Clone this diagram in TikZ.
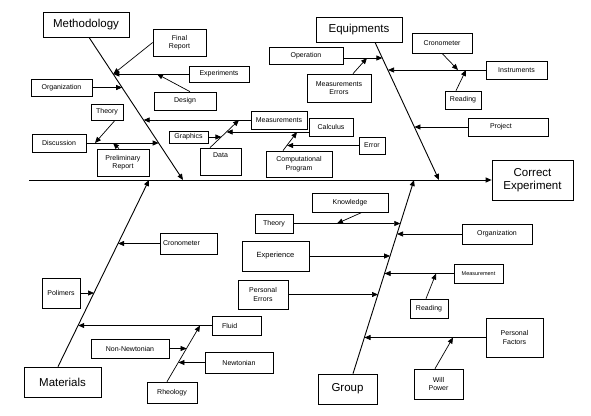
\documentclass[tikz,border=0pt]{standalone}
\usepackage{fontspec}
\setmainfont{Liberation Sans}
\usetikzlibrary{arrows.meta}
\begin{document}
\begin{tikzpicture}[x=1pt,y=-1pt,
  box/.style={draw, line width=0.7pt, inner sep=1pt, align=center, font=\fontsize{7}{8.5}\selectfont},
  big/.style={font=\fontsize{11.5}{13.5}\selectfont},
  rib/.style={line width=0.7pt, -{Triangle[length=6pt,width=5pt]}},
  bone/.style={line width=0.9pt, -{Triangle[length=6pt,width=5pt]}}]
\path[use as bounding box, fill=white] (0,0) rectangle (591,415);

% ---------- main boxes
\node[box,big,minimum width=86,minimum height=25] (meth) at (86,24.5) {Methodology};
\node[box,big,minimum width=86,minimum height=25] (equip) at (359,29.5) {Equipments};
\node[box,big,minimum width=77,minimum height=30] (mat) at (62.5,382) {Materials};
\node[box,big,minimum width=59,minimum height=30] (group) at (347.5,389) {Group};
\node[box,big,minimum width=81,minimum height=40] (corr) at (532.5,180) {Correct\\Experiment};

% ---------- spine
\coordinate (s0) at (29,180);
\draw[bone] (s0) -- (corr.west);

% ---------- bones
\coordinate (mb) at (183,180);
\coordinate (eb) at (439,180);
\coordinate (ab) at (149,180);
\coordinate (gb) at (414,180);
\draw[bone] ([xshift=3pt]meth.south) -- (mb);
\draw[bone] ([xshift=16pt]equip.south) -- (eb);
\draw[bone] ([xshift=-4.5pt]mat.north) -- (ab);
\draw[bone] ([xshift=5.5pt]group.north) -- (gb);

% ---------- Methodology causes
\node[box,minimum width=53,minimum height=27] (final) at (179.5,42.5) {Final\\Report};
\node[box,minimum width=60,minimum height=16] (exper) at (219,74) {Experiments};
\node[box,minimum width=62,minimum height=18] (design) at (185,101) {Design};
\node[box,minimum width=61,minimum height=17] (org1) at (61.5,87.5) {Organization};
\node[box,minimum width=32,minimum height=16] (theory1) at (107,112) {Theory};
\node[box,minimum width=54,minimum height=18] (disc) at (59,143) {Discussion};
\node[box,minimum width=52,minimum height=27] (prelim) at (123,162.5) {Preliminary\\Report};
\node[box,minimum width=56,minimum height=18] (meas1) at (279,120) {Measurements};
\node[box,minimum width=39,minimum height=12] (graph) at (188.5,137) {Graphics};
\node[box,minimum width=41,text height=8.5pt,text depth=16.5pt] (data) at (220.5,161.5) {Data};
\node[box,minimum width=44,minimum height=18] (calc) at (331,127) {Calculus};
\node[box,minimum width=26,minimum height=17] (err) at (372,145.5) {Error};
\node[box,minimum width=66,minimum height=26] (comp) at (299,164) {Computational\\Program};

\coordinate (m74) at (113.3,74);
\coordinate (m87) at (122.2,87.5);
\coordinate (m120) at (143.6,120);
\coordinate (m143) at (158.7,143);
\coordinate (d1) at (157,74);
\coordinate (t1) at (95,143);
\coordinate (p1) at (113,143);
\coordinate (dm) at (239,120);
\coordinate (dg) at (221.4,137);
\coordinate (dc) at (226.6,132);
\coordinate (cc) at (297,132);
\coordinate (ce) at (287.1,145.5);

\draw[rib] (final.west) -- (m74);
\draw[rib] (exper.west) -- (m74);
\draw[rib] ([xshift=5pt]design.north) -- (d1);
\draw[rib] (org1.east) -- (m87);
\draw[rib] (meas1.west) -- (m120);
\draw[rib] (disc.east) -- (m143);
\draw[rib] ([xshift=8pt]theory1.south) -- (t1);
\draw[rib] ([xshift=-4pt]prelim.north) -- (p1);
\draw[rib] ([xshift=-10.5pt]data.north) -- (dm);
\draw[rib] (graph.east) -- (dg);
\draw[rib] ([yshift=-5pt]calc.west) -- (dc);
\draw[rib] ([xshift=-16pt]comp.north) -- (cc);
\draw[rib] (err.west) -- (ce);

% ---------- Equipments causes
\node[box,minimum width=74,minimum height=17] (oper) at (306,55.5) {Operation};
\node[box,minimum width=64,minimum height=28] (merr) at (339,88) {Measurements\\Errors};
\node[box,minimum width=60,minimum height=20] (cron1) at (442,43) {Cronometer};
\node[box,minimum width=61,minimum height=18] (instr) at (516.5,70) {Instruments};
\node[box,minimum width=36,minimum height=18] (read1) at (463,100) {Reading};
\node[box,minimum height=18,text width=36pt,inner xsep=22pt,align=left] (proj) at (508,127) {Project};

\coordinate (e58) at (382.4,58);
\coordinate (o1) at (367,58);
\coordinate (e70) at (388,70);
\coordinate (i1) at (458,70);
\coordinate (i2) at (466,70);
\coordinate (e127) at (414.4,127);

\draw[rib] ([yshift=-2.5pt]oper.east) -- (e58);
\draw[rib] ([xshift=14pt]merr.north) -- (o1);
\draw[rib] (instr.west) -- (e70);
\draw[rib] (cron1.south) -- (i1);
\draw[rib] ([xshift=-7pt]read1.north) -- (i2);
\draw[rib] (proj.west) -- (e127);

% ---------- Materials causes
\node[box,minimum height=21,text width=51pt,inner xsep=3pt,align=left] (cron2) at (188.5,243.5) {Cronometer};
\node[box,minimum width=38,minimum height=30] (polim) at (61,293) {Polimers};
\node[box,minimum height=19,text width=29pt,inner xsep=10pt,align=left] (fluid) at (236.5,325.5) {Fluid};
\node[box,minimum width=78,minimum height=19] (nonnew) at (130,348.5) {Non-Newtonian};
\node[box,minimum width=68,minimum height=21] (newt) at (239,362.5) {Newtonian};
\node[box,minimum width=50,minimum height=21] (rheo) at (172,392.5) {Rheology};

\coordinate (a243) at (118.1,243.5);
\coordinate (a293) at (94,293);
\coordinate (a325) at (78.2,325.5);
\coordinate (r1) at (200,325.5);
\coordinate (r2) at (186.6,348.5);
\coordinate (r3) at (178.4,362.5);

\draw[rib] (cron2.west) -- (a243);
\draw[rib] (polim.east) -- (a293);
\draw[rib] (fluid.west) -- (a325);
\draw[rib] ([xshift=-5pt]rheo.north) -- (r1);
\draw[rib] (nonnew.east) -- (r2);
\draw[rib] (newt.west) -- (r3);

% ---------- Group causes
\node[box,minimum width=76,minimum height=19] (know) at (350,202.5) {Knowledge};
\node[box,minimum width=38,minimum height=19] (theory2) at (274,223.5) {Theory};
\node[box,minimum width=70,minimum height=20] (org2) at (497,234) {Organization};
\node[box,minimum width=67,minimum height=30,font=\fontsize{7.5}{9}\selectfont] (expce) at (275.5,256) {Experience};
\node[box,minimum width=49,minimum height=19,font=\fontsize{5.5}{7}\selectfont] (meas2) at (478.5,273.5) {Measurement};
\node[box,minimum width=38,minimum height=19] (read2) at (429,308.5) {Reading};
\node[box,minimum width=50,minimum height=29] (perr) at (263,294.5) {Personal\\Errors};
\node[box,minimum width=57,minimum height=39] (pfac) at (514.5,337.5) {Personal\\Factors};
\node[box,minimum width=49,minimum height=30] (will) at (438.5,384) {Will\\Power};

\coordinate (g223) at (400.3,223.5);
\coordinate (g234) at (397,234);
\coordinate (g256) at (390.1,256);
\coordinate (g273) at (384.6,273.5);
\coordinate (g294) at (378,294.5);
\coordinate (g337) at (364.5,337.5);
\coordinate (k1) at (337,223.5);
\coordinate (rd1) at (436,273.5);
\coordinate (w1) at (453,337.5);

\draw[rib] (theory2.east) -- (g223);
\draw[rib] ([xshift=12pt]know.south) -- (k1);
\draw[rib] (org2.west) -- (g234);
\draw[rib] (expce.east) -- (g256);
\draw[rib] (meas2.west) -- (g273);
\draw[rib] ([xshift=-3pt]read2.north) -- (rd1);
\draw[rib] (perr.east) -- (g294);
\draw[rib] (pfac.west) -- (g337);
\draw[rib] ([xshift=-3.5pt]will.north) -- (w1);
\end{tikzpicture}
\end{document}
